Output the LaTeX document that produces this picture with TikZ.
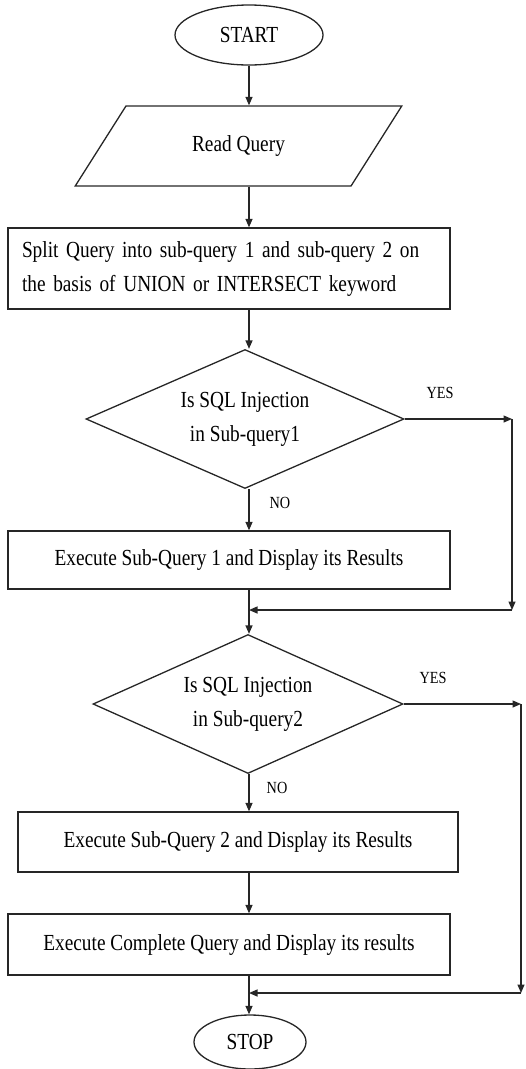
\documentclass[tikz,border=0pt]{standalone}
\usepackage{fontspec}
\setmainfont[FakeStretch=0.84]{Liberation Serif}
\usetikzlibrary{shapes.geometric,arrows.meta}
\begin{document}
\begin{tikzpicture}[x=1pt,y=-1pt,
  every node/.style={font=\fontsize{23}{34}\selectfont, text=black},
  ln/.style={draw=black!85, line width=1.3pt},
  arr/.style={ln, -{Triangle[length=8.5pt,width=7pt]}},
  term/.style={ln, ellipse, inner sep=0pt},
  io/.style={ln, trapezium, trapezium left angle=45, trapezium right angle=135,
     trapezium stretches=true, inner sep=0pt},
  procbox/.style={ln, rectangle, inner sep=0pt},
  decision/.style={ln, diamond, inner sep=0pt, align=center, shape aspect=2.3},
  lbl/.style={font=\fontsize{17}{18}\selectfont}
]
\useasboundingbox (0,0) rectangle (526,1069);
\coordinate (ax) at (249,0);

\node[term, minimum width=148pt, minimum height=60pt] (start) at (249,35) {START};
\node[io, minimum width=327pt, minimum height=80pt] (read) at (238.5,146) {Read Query};
\node[procbox, minimum width=442pt, minimum height=81pt, text width=414pt,
  inner xsep=14pt, align=left] (split) at (229,268.5)
  {Split Query into sub-query 1 and sub-query 2 on\\the basis of UNION or INTERSECT keyword};
\node[decision, minimum width=318pt, minimum height=139pt] (d1) at (245,419)
  {Is SQL Injection\\in Sub-query1};
\node[procbox, minimum width=442pt, minimum height=58pt] (exec1) at (229,560)
  {Execute Sub-Query 1 and Display its Results};
\node[decision, minimum width=310pt, minimum height=139pt] (d2) at (248,704)
  {Is SQL Injection\\in Sub-query2};
\node[procbox, minimum width=440pt, minimum height=60pt] (exec2) at (238,842)
  {Execute Sub-Query 2 and Display its Results};
\node[procbox, minimum width=442pt, minimum height=61pt] (exec3) at (229,944.5)
  {Execute Complete Query and Display its results};
\node[term, minimum width=112pt, minimum height=54pt] (stop) at (250,1042) {STOP};

\node[lbl] (yes1) at (440,393) {YES};
\node[lbl] (no1) at (280,503) {NO};
\node[lbl] (yes2) at (433,678) {YES};
\node[lbl] (no2) at (277,788) {NO};

\coordinate (r1) at (512,419);
\coordinate (m1) at (249,610);
\coordinate (r2) at (521,704);
\coordinate (m2) at (249,993);

\draw[arr] (ax |- start.south) -- (ax |- read.north);
\draw[arr] (ax |- read.south) -- (ax |- split.north);
\draw[arr] (ax |- split.south) -- (ax |- d1.north);
\draw[arr] (ax |- d1.south) -- (ax |- exec1.north);
\draw[arr] (ax |- exec1.south) -- (ax |- d2.north);
\draw[arr] (ax |- d2.south) -- (ax |- exec2.north);
\draw[arr] (ax |- exec2.south) -- (ax |- exec3.north);
\draw[arr] (ax |- exec3.south) -- (ax |- stop.north);

\draw[arr] (d1.east) -- (r1);
\draw[arr] (r1) -- (r1 |- m1);
\draw[arr] (r1 |- m1) -- (m1);

\draw[arr] (d2.east) -- (r2);
\draw[arr] (r2) -- (r2 |- m2);
\draw[arr] (r2 |- m2) -- (m2);
\end{tikzpicture}
\end{document}
